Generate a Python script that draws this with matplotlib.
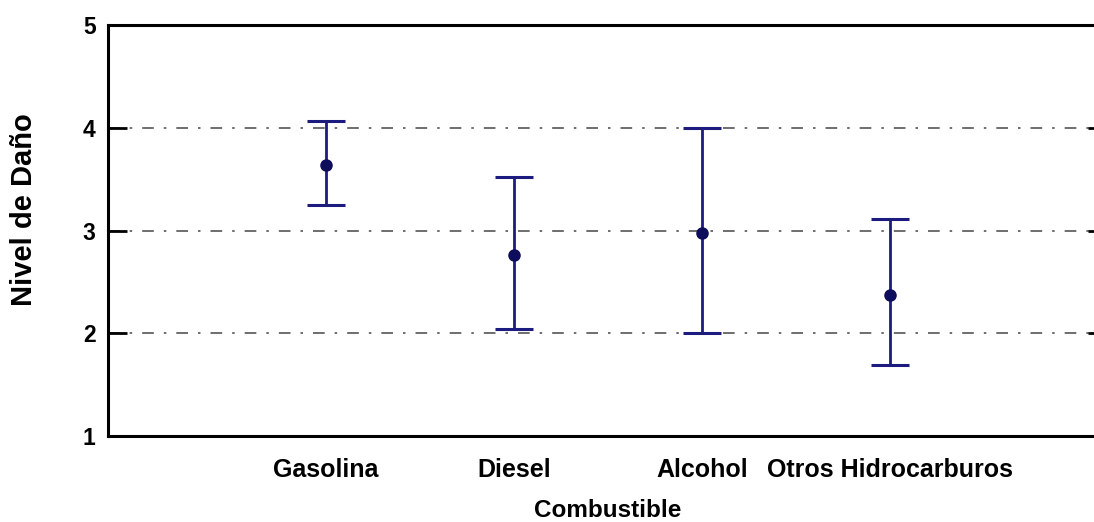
import matplotlib
matplotlib.use("Agg")
import matplotlib.pyplot as plt

# ---- Data ----
categories = ["Gasolina", "Diesel", "Alcohol", "Otros Hidrocarburos"]
means = [3.64, 2.76, 2.98, 2.37]
upper = [4.07, 3.52, 4.00, 3.11]
lower = [3.25, 2.04, 2.00, 1.69]
y_ticks = [1, 2, 3, 4, 5]

plt.rcParams["font.family"] = ["Liberation Sans", "DejaVu Sans"]
plt.rcParams["font.weight"] = "bold"

fig = plt.figure(figsize=(10.94, 5.22), dpi=100)
ax = fig.add_axes([0.0987, 0.1648, 0.913, 0.787])

x = list(range(1, len(categories) + 1))
err_lo = [m - l for m, l in zip(means, lower)]
err_hi = [u - m for m, u in zip(means, upper)]

# dash-dot gridlines
for v in [2, 3, 4]:
    ax.axhline(v, color="#555555", lw=1.2, ls=(0, (7, 6, 1.5, 6)), zorder=1)

ax.errorbar(x, means, yerr=[err_lo, err_hi], fmt="o", color="#1c1c80",
            ecolor="#1c1c80", markerfacecolor="#0d0d5c", markeredgecolor="#0d0d5c",
            markersize=8, elinewidth=2.0, capsize=13.5, capthick=2.2, zorder=3)

ax.set_xlim(-0.16, 5.154)
ax.set_ylim(1, 5)
ax.set_yticks(y_ticks)
ax.set_xticks(x)
ax.set_xticklabels(categories, fontsize=18, fontweight="bold")
ax.set_yticklabels([str(t) for t in y_ticks], fontsize=16.5, fontweight="bold")

ax.tick_params(axis="x", length=0, pad=16)
ax.tick_params(axis="y", direction="in", length=14, width=2, pad=9,
               left=True, right=True)

for s in ax.spines.values():
    s.set_linewidth(2.2)

ax.set_xlabel("Combustible", fontsize=17.5, fontweight="bold", labelpad=12)
ax.set_ylabel("Nivel de Daño", fontsize=21, fontweight="bold")
ax.yaxis.set_label_coords(-0.070, 0.551)

fig.savefig("out.png", dpi=100)
